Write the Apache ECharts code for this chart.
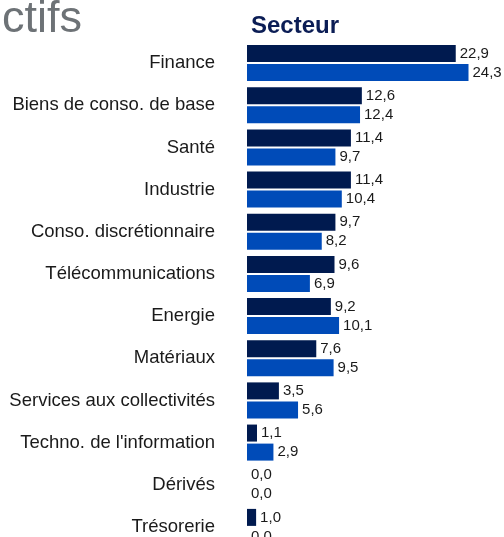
<!DOCTYPE html>
<html>
<head>
<meta charset="utf-8">
<script src="https://cdn.jsdelivr.net/npm/echarts@6/dist/echarts.min.js"></script>
<style>
  html, body { margin: 0; padding: 0; background: #fff; }
  #main { width: 504px; height: 537px; }
</style>
</head>
<body>
<div id="main"></div>
<script>
// secteurs (de haut en bas)
const categories = [
  'Finance',
  'Biens de conso. de base',
  'Santé',
  'Industrie',
  'Conso. discrétionnaire',
  'Télécommunications',
  'Energie',
  'Matériaux',
  'Services aux collectivités',
  "Techno. de l'information",
  'Dérivés',
  'Trésorerie',
]
const fundValues = [22.9, 12.6, 11.4, 11.4, 9.7, 9.6, 9.2, 7.6, 3.5, 1.1, 0.0, 1.0]
const benchValues = [24.3, 12.4, 9.7, 10.4, 8.2, 6.9, 10.1, 9.5, 5.6, 2.9, 0.0, 0.0]

const font = 'Liberation Sans, Arial, sans-serif'

function fmt(p) {
  return p.value.toFixed(1).replace('.', ',')
}

const chart = echarts.init(document.getElementById('main'))
chart.setOption({
  animation: false,
  title: [
    {
      text: 'ctifs',
      left: -3,
      top: -8,
      textStyle: { fontFamily: font, fontSize: 45, fontWeight: 'normal', color: '#6d7276' },
    },
    {
      text: 'Secteur',
      left: 246,
      top: 9,
      textStyle: { fontFamily: font, fontSize: 24, fontWeight: 'bold', color: '#0b1d55' },
    },
  ],
  grid: {
    left: 247,
    right: 20,
    top: 42,
    height: 506,
    outerBoundsMode: 'none',
  },
  xAxis: {
    type: 'value',
    min: 0,
    max: 26,
    show: false,
  },
  yAxis: {
    type: 'category',
    data: categories,
    inverse: true,
    axisLine: { show: false },
    axisTick: { show: false },
    splitLine: { show: false },
    axisLabel: {
      margin: 32,
      fontFamily: font,
      fontSize: 18.5,
      color: '#1a1a1a',
    },
  },
  series: [
    {
      name: 'Fonds',
      type: 'bar',
      data: fundValues,
      barWidth: 17,
      barGap: '12%',
      itemStyle: { color: '#001a4f' },
      label: {
        show: true,
        position: 'right',
        distance: 4,
        formatter: fmt,
        fontFamily: font,
        fontSize: 15,
        color: '#1a1a1a',
      },
    },
    {
      name: 'Indice',
      type: 'bar',
      data: benchValues,
      barWidth: 17,
      itemStyle: { color: '#004bb8' },
      label: {
        show: true,
        position: 'right',
        distance: 4,
        formatter: fmt,
        fontFamily: font,
        fontSize: 15,
        color: '#1a1a1a',
      },
    },
  ],
})
</script>
</body>
</html>
